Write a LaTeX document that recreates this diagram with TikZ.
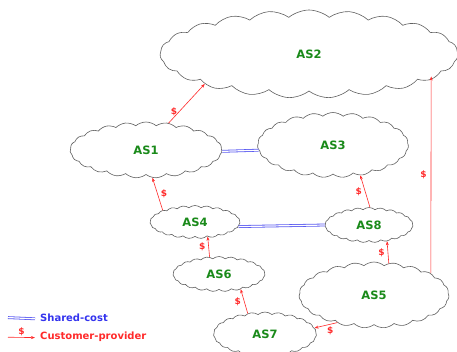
\documentclass[tikz,border=0pt]{standalone}
\usepackage{fontspec}
\setmainfont{DejaVu Sans}
\usepackage{tikz}
\usetikzlibrary{shapes.symbols, arrows.meta, positioning, calc}
\definecolor{asgreen}{HTML}{1A8A1A}
\definecolor{asdraw}{HTML}{606060}
\definecolor{cpred}{HTML}{FF2A2A}
\definecolor{scblue}{HTML}{3333EE}
\tikzset{
  as/.style={cloud, cloud puffs=23, cloud puff arc=80, cloud ignores aspect, draw=asdraw, line width=0.6pt, fill=white, font=\fontsize{11.5}{13}\selectfont\bfseries, text=asgreen, inner sep=0pt},
  arr/.style={->, >={Stealth[length=4pt, width=3pt]}, line width=0.6pt, draw=cpred},
  shared/.style={draw=scblue!80, line width=0.8pt, double=white, double distance=1.2pt},
  lab/.style={font=\fontsize{9}{10}\selectfont\bfseries, text=cpred, inner sep=1pt},
  leg/.style={font=\fontsize{10}{11}\selectfont\bfseries, anchor=west, inner sep=0pt},
}
\begin{document}
\begin{tikzpicture}[x=1pt, y=-1pt]
  \useasboundingbox (0,0) rectangle (457,351);
  % clouds
  \node[as, minimum width=298pt, minimum height=88pt] (as2) at (309,54) {AS2};
  \node[as, minimum width=152pt, minimum height=56pt] (as1) at (146,150) {AS1};
  \node[as, minimum width=151pt, minimum height=65pt] (as3) at (333,145) {AS3};
  \node[as, minimum width=90pt, minimum height=33pt] (as4) at (195,222) {AS4};
  \node[as, minimum width=88pt, minimum height=35pt] (as8) at (369,225) {AS8};
  \node[as, minimum width=92pt, minimum height=35pt] (as6) at (219,274) {AS6};
  \node[as, minimum width=150pt, minimum height=66pt] (as5) at (374,295) {AS5};
  \node[as, minimum width=103pt, minimum height=44pt] (as7) at (265,334) {AS7};
  % customer-provider
  \draw[arr] (as1.50) -- node[lab, pos=0.3, left=1pt] {\$} (as2.196);
  \draw[arr] (as4.160) -- node[lab, right=2pt] {\$} (as1.283);
  \draw[arr] (as8.87) -- node[lab, left=2pt] {\$} (as3.312);
  \draw[arr] (as6.119) -- node[lab, left=2pt] {\$} (as4.311);
  \draw[arr] (as7.130) -- node[lab, left=2pt] {\$} (as6.325);
  \draw[arr] (as5.65) -- node[lab, left=2pt] {\$} (as8.318);
  \draw[arr] (as5.217) -- node[lab, below right=0pt and 0pt] {\$} (as7.7);
  \coordinate (as2in) at ($(as5.21 |- as2.350)+(0.4,0)$);
  \draw[arr] (as5.21) -- node[lab, left=3pt] {\$} (as2in);
  % shared-cost
  \draw[shared] (as1.359) -- (as3.184);
  \draw[shared] (as4.354) -- (as8.180);
  % legend
  \coordinate (sca) at (8,317.6);
  \coordinate (scb) at (35,318.8);
  \coordinate (cpa) at (8,337.2);
  \coordinate (cpb) at (35,337.6);
  \draw[shared] (sca) -- (scb);
  \draw[arr] (cpa) -- node[lab, above=0pt] {\$} (cpb);
  \node[leg, text=scblue] (sclab) at (40,318) {Shared-cost};
  \node[leg, text=cpred] (cplab) at (40,337) {Customer-provider};
\end{tikzpicture}
\end{document}
